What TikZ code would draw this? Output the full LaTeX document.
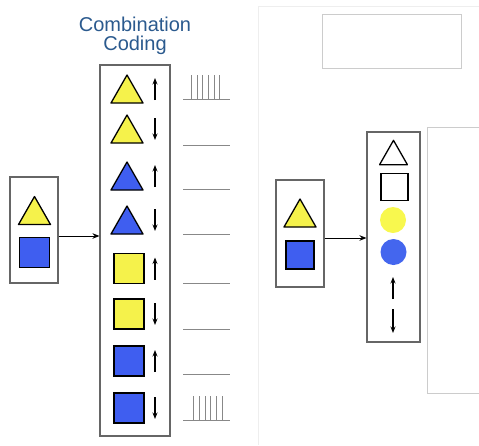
\documentclass[tikz,border=0pt]{standalone}
\usepackage{fontspec}
\setmainfont{Liberation Sans}
\usetikzlibrary{arrows.meta}
\definecolor{shapeyellow}{HTML}{F5F24B}
\definecolor{shapeblue}{HTML}{3F5EF0}
\definecolor{dotyellow}{HTML}{F8F84E}
\definecolor{dotblue}{HTML}{4466EE}
\definecolor{titleblue}{HTML}{2B5A8E}
\definecolor{framegray}{HTML}{666666}
\definecolor{lightframe}{HTML}{CCCCCC}
\definecolor{slideedge}{HTML}{EEEEEE}
\definecolor{traceray}{HTML}{888888}
\tikzset{
  panel/.style={draw=framegray, line width=1.1pt, rectangle, inner sep=0pt},
  feed/.style={-{Stealth[length=7pt,width=5.5pt]}, line width=1pt, black},
  dirarrow/.style={-{Stealth[length=6.5pt,width=5pt]}, line width=1.2pt, black},
  trace/.style={draw=traceray, line width=0.9pt},
  title/.style={text=titleblue, font=\fontsize{20}{22}\selectfont, inner sep=0pt},
  tri/.pic={\draw[line width=1.3pt, line join=round, fill=#1]
      (-16,14) -- (0,-14) -- (16,14) -- cycle;},
  sq/.pic={\draw[line width=1.3pt, fill=#1] (-15,-15) rectangle (15,15);}
}
\begin{document}
\begin{tikzpicture}[x=1pt,y=-1pt]
\useasboundingbox (0,0) rectangle (479,445);

% slide edge of the second panel
\draw[slideedge, line width=0.8pt] (258,445) -- (258,6) -- (479,6);

% title
\node[title] (t1) at (135,24) {Combination};
\node[title] (t2) at (135,45) {Coding};

% ---------- left: combination coding ----------
\node[panel, minimum width=48pt, minimum height=106pt] (in1) at (34,230) {};
\pic at (34.5,210.5) {tri=shapeyellow};
\pic at (34.5,252.5) {sq=shapeblue};

\node[panel, minimum width=70pt, minimum height=371pt] (main) at (135,250.5) {};
\draw[feed] ([yshift=-6pt]in1.east) -- ([yshift=-6pt]in1.east -| main.west);

% rows: triangles and squares with direction arrows
\pic at (127,89)  {tri=shapeyellow};
\pic at (127,129) {tri=shapeyellow};
\pic at (127,176) {tri=shapeblue};
\pic at (127,220) {tri=shapeblue};
\pic at (129,268.5) {sq=shapeyellow};
\pic at (129,314) {sq=shapeyellow};
\pic at (129,361) {sq=shapeblue};
\pic at (129,408) {sq=shapeblue};

\foreach \c in {89,176,268.5,361}{
  \coordinate (ua) at (155,\c+11);
  \coordinate (ub) at (155,\c-11);
  \draw[dirarrow] (ua) -- (ub);
}
\foreach \c in {129,220,314,408}{
  \coordinate (da) at (155,\c-11);
  \coordinate (db) at (155,\c+11);
  \draw[dirarrow] (da) -- (db);
}

% response traces
\foreach \b in {99,145,189,234,283,329,374,420}{
  \coordinate (la) at (183,\b);
  \coordinate (lb) at (230,\b);
  \draw[trace] (la) -- (lb);
}
\foreach \s in {191,197,202.5,208,214,219.5}{
  \coordinate (sa) at (\s,99);
  \coordinate (sb) at (\s,75);
  \draw[trace] (sa) -- (sb);
}
\foreach \s in {193,199,205,210.5,216,222}{
  \coordinate (sa) at (\s,420);
  \coordinate (sb) at (\s,396);
  \draw[trace] (sa) -- (sb);
}

% ---------- right: separate features ----------
\draw[lightframe, line width=0.9pt] (322,14) rectangle (461,68);
\draw[lightframe, line width=0.9pt] (479,127) -- (427,127) -- (427,393) -- (479,393);

\node[panel, minimum width=48pt, minimum height=107pt] (in2) at (300,233.5) {};
\pic at (300,213) {tri=shapeyellow};
\pic[scale=0.93] at (300,255) {sq=shapeblue};

\node[panel, minimum width=53pt, minimum height=210pt] (feat) at (393.5,237) {};
\draw[feed] ([yshift=-4.5pt]in2.east) -- ([yshift=-4.5pt]in2.east -| feat.west);

\pic[scale=0.87] at (393.5,152.5) {tri=white};
\pic[scale=0.9] at (394.5,187) {sq=white};
\node[circle, fill=dotyellow, minimum size=26pt, inner sep=0pt] (cy) at (393,220) {};
\node[circle, fill=dotblue, minimum size=26pt, inner sep=0pt] (cb) at (393.5,252) {};
\coordinate (fu1) at (393,299);
\coordinate (fu2) at (393,277);
\draw[dirarrow] (fu1) -- (fu2);
\coordinate (fd1) at (393,309);
\coordinate (fd2) at (393,333);
\draw[dirarrow] (fd1) -- (fd2);
\end{tikzpicture}
\end{document}
